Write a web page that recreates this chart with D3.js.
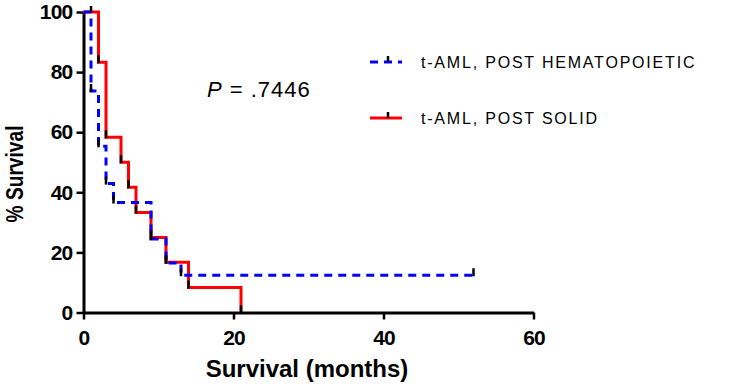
<!DOCTYPE html>
<html>
<head>
<meta charset="utf-8">
<script src="https://cdn.jsdelivr.net/npm/d3@7"></script>
<style>
    body { margin: 0; background: #fff; }
    #chart { width: 750px; height: 387px; }
    text { font-family: "Liberation Sans", Arial, sans-serif; }
</style>
</head>
<body>
<div id="chart"></div>
<script>
// tick labels
const xTicks = [0, 20, 40, 60]
const yTicks = [0, 20, 40, 60, 80, 100]

// t-AML, post hematopoietic (months, % survival), last follow-up is censored
const hemaTimes = [0, 1, 2, 3, 4, 9, 11, 13]
const hemaSurv = [100, 73.7, 55.3, 42.9, 36.6, 24.5, 16.5, 12.4]
const hemaLast = 52

// t-AML, post solid
const solidTimes = [0, 2, 3, 5, 6, 7, 9, 11, 14, 21]
const solidSurv = [100, 83.3, 58.3, 50, 41.7, 33.3, 25, 16.7, 8.3, 0]

const seriesNames = ["t-AML, POST HEMATOPOIETIC", "t-AML, POST SOLID"]
const pLabel = ".7446"

class SurvivalChart {

    constructor(parentElement) {
        this._parentElement = parentElement;
        this.initVis()
    }

    initVis() {
        let vis = this;

        vis.svg = d3.select("#" + vis._parentElement).append("svg")
            .attr("width", 750)
            .attr("height", 387);

        // Scales
        vis.x = d3.scaleLinear().domain([0, 60]).range([83.5, 533.5]);
        vis.y = d3.scaleLinear().domain([0, 100]).range([312.5, 12]);

        vis.line = d3.line()
            .x(d => vis.x(d[0]))
            .y(d => vis.y(d[1]))
            .curve(d3.curveStepAfter);

        // Axes
        vis.xAxis = d3.axisBottom(vis.x).tickValues(xTicks).tickSize(7).tickSizeOuter(0).tickPadding(11);
        vis.yAxis = d3.axisLeft(vis.y).tickValues(yTicks).tickSize(7).tickSizeOuter(0).tickPadding(4);

        let gx = vis.svg.append("g")
            .attr("class", "x-axis axis")
            .attr("transform", "translate(0," + vis.y(0) + ")")
            .call(vis.xAxis);

        let gy = vis.svg.append("g")
            .attr("class", "y-axis axis")
            .attr("transform", "translate(" + vis.x(0) + ",0)")
            .call(vis.yAxis);

        [gx, gy].forEach(g => {
            g.select(".domain").attr("stroke", "#000").attr("stroke-width", 3);
            g.selectAll(".tick line").attr("stroke", "#000").attr("stroke-width", 2.5);
            g.selectAll(".tick text")
                .attr("fill", "#000")
                .style("font-size", "21px")
                .style("font-weight", "bold")
                .style("letter-spacing", "-0.8px");
        });

        // axis titles
        vis.svg.append("text")
            .attr("x", 307)
            .attr("y", 377)
            .attr("text-anchor", "middle")
            .style("font-size", "24px")
            .style("font-weight", "bold")
            .text("Survival (months)");

        vis.svg.append("text")
            .attr("transform", "translate(23,174) rotate(-90)")
            .attr("text-anchor", "middle")
            .attr("textLength", 97)
            .attr("lengthAdjust", "spacingAndGlyphs")
            .style("font-size", "24px")
            .style("font-weight", "bold")
            .text("% Survival");

        // curves, red first so the dashed blue sits on top
        let solidPts = solidTimes.map((t, i) => [t, solidSurv[i]]);
        let hemaPts = hemaTimes.map((t, i) => [t, hemaSurv[i]]).concat([[hemaLast, hemaSurv[hemaSurv.length - 1]]]);

        vis.svg.append("path")
            .attr("d", vis.line(solidPts))
            .attr("fill", "none")
            .attr("stroke", "#ff0000")
            .attr("stroke-width", 3);

        vis.svg.append("path")
            .attr("d", vis.line(hemaPts))
            .attr("fill", "none")
            .attr("stroke", "#0000ff")
            .attr("stroke-width", 3)
            .attr("stroke-dasharray", "8,6");

        // black marks at the foot of each drop
        let marks = solidPts.slice(1).concat(hemaPts.slice(1));
        vis.svg.selectAll("line.mark").data(marks)
            .enter().append("line")
            .attr("class", "mark")
            .attr("x1", d => vis.x(d[0]))
            .attr("x2", d => vis.x(d[0]))
            .attr("y1", d => vis.y(d[1]) - 7)
            .attr("y2", d => vis.y(d[1]) + 1)
            .attr("stroke", "#000")
            .attr("stroke-width", 2.5);

        // tick above the top at first hematopoietic drop
        vis.svg.append("line")
            .attr("x1", vis.x(hemaTimes[1])).attr("x2", vis.x(hemaTimes[1]))
            .attr("y1", vis.y(100) - 6).attr("y2", vis.y(100))
            .attr("stroke", "#000").attr("stroke-width", 2.5);

        // P value
        let pt = vis.svg.append("text")
            .attr("x", 207)
            .attr("y", 97)
            .style("font-size", "22px")
            .style("letter-spacing", "1px");
        pt.append("tspan").style("font-style", "italic").text("P");
        pt.append("tspan").text(" = " + pLabel);

        // Legend
        let legend = vis.svg.selectAll("g.legend-item").data(seriesNames)
            .enter().append("g")
            .attr("class", "legend-item")
            .attr("transform", (d, i) => "translate(370," + (62 + i * 56) + ")");

        legend.append("line")
            .attr("x1", 0).attr("x2", 32)
            .attr("stroke", (d, i) => i === 0 ? "#0000ff" : "#ff0000")
            .attr("stroke-width", 3)
            .attr("stroke-dasharray", (d, i) => i === 0 ? "8,6" : null);

        legend.append("line")
            .attr("x1", 18).attr("x2", 18)
            .attr("y1", -6).attr("y2", 0)
            .attr("stroke", "#000")
            .attr("stroke-width", 2.5);

        legend.append("text")
            .attr("x", 51)
            .attr("y", 6)
            .style("font-size", "16px")
            .style("letter-spacing", "1.8px")
            .text(d => d);
    }
}

new SurvivalChart("chart")
</script>
</body>
</html>
